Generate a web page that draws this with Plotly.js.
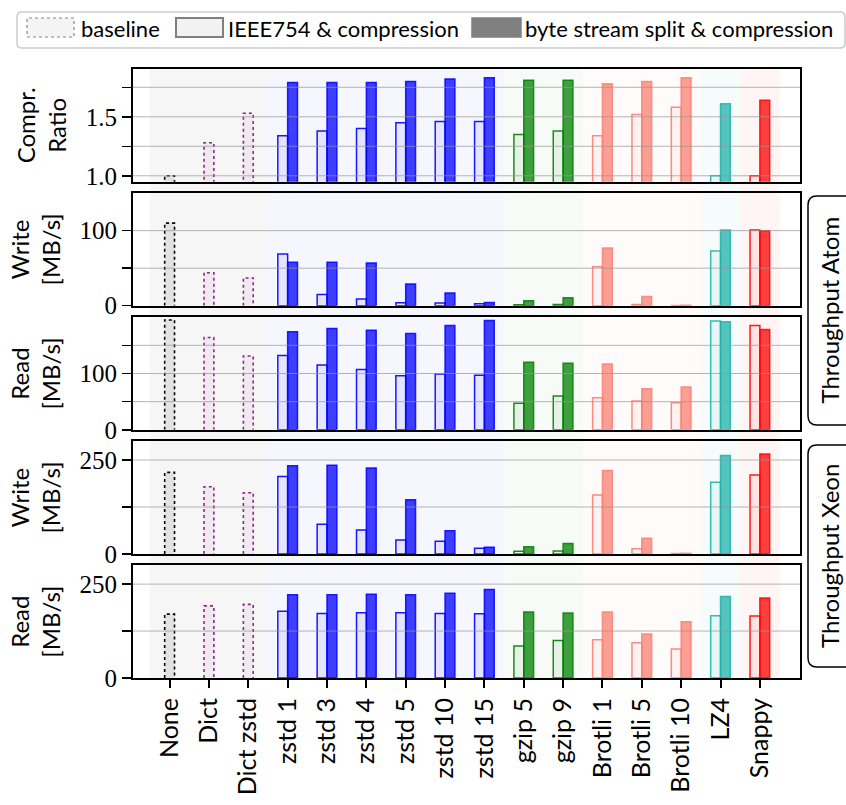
<!DOCTYPE html>
<html><head><meta charset="utf-8">
<script src="https://cdn.plot.ly/plotly-3.0.1.min.js"></script>
<style>html,body{margin:0;padding:0;background:#fff}</style>
</head><body><div id="chart" style="width:846px;height:805px"></div>
<script>
// ---------------- data ----------------
const categories = ['None','Dict','Dict zstd','zstd 1','zstd 3','zstd 4','zstd 5','zstd 10','zstd 15','gzip 5','gzip 9','Brotli 1','Brotli 5','Brotli 10','LZ4','Snappy'];
const baselineCats = ['None','Dict','Dict zstd'];
const codecCats = ['zstd 1','zstd 3','zstd 4','zstd 5','zstd 10','zstd 15','gzip 5','gzip 9','Brotli 1','Brotli 5','Brotli 10','LZ4','Snappy'];

const ratioBaseline = [1.00, 1.28, 1.53];
const ratioIEEE     = [1.34, 1.38, 1.40, 1.45, 1.46, 1.46, 1.35, 1.38, 1.34, 1.52, 1.58, 1.00, 1.00];
const ratioBSS      = [1.79, 1.79, 1.79, 1.80, 1.82, 1.83, 1.81, 1.81, 1.78, 1.80, 1.83, 1.61, 1.64];

const writeAtomBaseline = [110, 44, 37];
const writeAtomIEEE     = [69, 15, 9, 4, 3.5, 2.6, 1.3, 1.7, 52, 1.7, 0.3, 73, 101];
const writeAtomBSS      = [58, 58, 57, 29, 17, 4.4, 6.6, 10.6, 77, 12.4, 0.5, 101, 100];

const readAtomBaseline = [195, 164, 131];
const readAtomIEEE     = [132, 115, 107, 96, 99, 97, 47, 60, 57, 51, 48, 193, 185];
const readAtomBSS      = [174, 180, 177, 171, 185, 194, 120, 118, 117, 73, 76, 192, 178];

const writeXeonBaseline = [217, 179, 163];
const writeXeonIEEE     = [206, 79, 64, 37, 34, 15, 7, 8, 157, 14, 1, 191, 210];
const writeXeonBSS      = [235, 236, 229, 144, 62, 18, 19, 28, 222, 42, 1.5, 262, 266];

const readXeonBaseline = [170, 192, 196];
const readXeonIEEE     = [178, 172, 174, 174, 172, 171, 85, 100, 102, 94, 77, 166, 165];
const readXeonBSS      = [222, 222, 223, 222, 226, 236, 176, 173, 176, 117, 150, 217, 213];

const panelTitles = ['Compr.<br>Ratio', 'Write<br>[MB/s]', 'Read<br>[MB/s]', 'Write<br>[MB/s]', 'Read<br>[MB/s]'];
const yTickVals = [[1, 1.25, 1.5, 1.75], [0, 50, 100], [0, 50, 100, 150], [0, 125, 250], [0, 125, 250]];
const yTickText = [['1.0', '', '1.5', ''], ['0', '', '100'], ['0', '', '100', ''], ['0', '', '250'], ['0', '', '250']];
const yRanges = [[0.95, 1.905], [0, 150], [0, 200], [0, 300], [0, 300]];
const legendLabels = ['baseline', 'IEEE754 & compression', 'byte stream split & compression'];
const machineLabels = ['Throughput Atom', 'Throughput Xeon'];

// ---------------- styling helpers ----------------
const panels = [
  [ratioBaseline, ratioIEEE, ratioBSS],
  [writeAtomBaseline, writeAtomIEEE, writeAtomBSS],
  [readAtomBaseline, readAtomIEEE, readAtomBSS],
  [writeXeonBaseline, writeXeonIEEE, writeXeonBSS],
  [readXeonBaseline, readXeonIEEE, readXeonBSS]
];
function family(cat) {
  if (cat === 'None') return 'none';
  if (cat.startsWith('Dict')) return 'dict';
  return cat.split(' ')[0];
}
const famRGB = {none: [0,0,0], dict: [128,0,128], zstd: [0,0,255], gzip: [0,128,0], Brotli: [250,128,114], LZ4: [32,178,170], Snappy: [255,0,0]};
const rgba = (c, a) => `rgba(${c[0]},${c[1]},${c[2]},${a})`;
const idx = c => categories.indexOf(c);

const BW = 0.25;
const FONT = 'Lato, "Noto Sans", sans-serif';
const NUMFONT = '"Liberation Serif", "DejaVu Serif", serif';

const L = 133, T = 69, W = 667, H = 609;
const pxX = v => (v - L) / W;
const pxY = v => (T + H - v) / H;
function roundRect(x0, y0, x1, y1, r) {
  const X = pxX, Y = pxY;
  return `M ${X(x0+r)} ${Y(y0)} L ${X(x1-r)} ${Y(y0)} Q ${X(x1)} ${Y(y0)} ${X(x1)} ${Y(y0+r)} ` +
         `L ${X(x1)} ${Y(y1-r)} Q ${X(x1)} ${Y(y1)} ${X(x1-r)} ${Y(y1)} ` +
         `L ${X(x0+r)} ${Y(y1)} Q ${X(x0)} ${Y(y1)} ${X(x0)} ${Y(y1-r)} ` +
         `L ${X(x0)} ${Y(y0+r)} Q ${X(x0)} ${Y(y0)} ${X(x0+r)} ${Y(y0)} Z`;
}

const nP = 5, ph = 0.185, gap = (1 - nP * ph) / (nP - 1);
const traces = [];
const shapes = [];
const annotations = [];
const layout = {
  width: 846, height: 805,
  margin: {l: L, r: 846 - L - W, t: T, b: 805 - T - H},
  paper_bgcolor: '#ffffff', plot_bgcolor: 'rgba(0,0,0,0)',
  barmode: 'overlay', showlegend: false,
  font: {family: FONT, size: 22, color: '#000'}
};

for (let k = 0; k < nP; k++) {
  const s = k === 0 ? '' : String(k + 1);
  const xa = 'x' + s, ya = 'y' + s;
  const [bv, iv, sv] = panels[k];
  // baseline fill
  traces.push({
    type: 'bar', xaxis: xa, yaxis: ya,
    x: baselineCats.map(idx), y: bv, width: BW, offset: -BW / 2,
    marker: {color: baselineCats.map(c => family(c) === 'none' ? 'rgba(0,0,0,0.08)' : 'rgba(128,0,128,0.05)'), line: {width: 0}},
    hoverinfo: 'x+y'
  });
  // baseline dotted outlines
  baselineCats.forEach((c, j) => {
    const i = idx(c);
    traces.push({
      type: 'scatter', mode: 'lines', xaxis: xa, yaxis: ya,
      x: [i - BW / 2, i - BW / 2, i + BW / 2, i + BW / 2],
      y: [0, bv[j], bv[j], 0],
      line: {color: family(c) === 'none' ? '#000' : 'rgba(128,0,128,0.85)', width: 1.6, dash: 'dot'},
      hoverinfo: 'skip'
    });
  });
  // IEEE754 & compression
  traces.push({
    type: 'bar', xaxis: xa, yaxis: ya,
    x: codecCats.map(idx), y: iv, width: BW, offset: -BW,
    marker: {color: codecCats.map(c => rgba(famRGB[family(c)], 0.07)),
             line: {color: codecCats.map(c => rgba(famRGB[family(c)], 0.9)), width: 1.5}}
  });
  // byte stream split & compression
  traces.push({
    type: 'bar', xaxis: xa, yaxis: ya,
    x: codecCats.map(idx), y: sv, width: BW, offset: 0,
    marker: {color: codecCats.map(c => rgba(famRGB[family(c)], 0.75)),
             line: {color: codecCats.map(c => rgba(famRGB[family(c)], 0.85)), width: 1.5}}
  });

  const top = 1 - k * (ph + gap);
  layout['xaxis' + s] = {
    domain: [0, 1], anchor: ya, range: [-0.93, 16.02],
    matches: k === 0 ? undefined : 'x',
    tickmode: 'array', tickvals: categories.map((c, i) => i), ticktext: categories,
    showticklabels: k === nP - 1, ticks: k === nP - 1 ? 'outside' : '',
    ticklen: 8, tickwidth: 2, tickcolor: '#000', tickangle: -90,
    tickfont: {family: FONT, size: 25, color: '#000'},
    showline: true, mirror: true, linecolor: '#000', linewidth: 2,
    showgrid: false, zeroline: false
  };
  layout['yaxis' + s] = {
    domain: [top - ph, top], anchor: xa, range: yRanges[k],
    tickmode: 'array', tickvals: yTickVals[k], ticktext: yTickText[k],
    ticks: 'outside', ticklen: 9, tickwidth: 1.5, tickcolor: '#000',
    tickfont: {family: NUMFONT, size: 25, color: '#000'},
    showline: true, mirror: true, linecolor: '#000', linewidth: 2,
    showgrid: false, zeroline: false,
    title: {text: panelTitles[k], font: {family: FONT, size: 24, color: '#000'}, standoff: 12}
  };
  // gridlines above bars
  yTickVals[k].forEach(v => {
    if (v <= yRanges[k][0]) return;
    shapes.push({type: 'line', xref: 'paper', yref: ya, x0: 0, x1: 1, y0: v, y1: v,
                 line: {color: 'rgba(150,150,150,0.7)', width: 1}, layer: 'above'});
  });
}

// background bands per codec family
const bandColor = {base: 'rgba(128,128,128,0.07)', zstd: 'rgba(0,0,255,0.035)', gzip: 'rgba(0,128,0,0.03)',
                   Brotli: 'rgba(250,128,114,0.035)', LZ4: 'rgba(32,178,170,0.04)', Snappy: 'rgba(255,0,0,0.04)'};
const bandKey = c => (family(c) === 'none' || family(c) === 'dict') ? 'base' : family(c);
let start = 0;
for (let i = 1; i <= categories.length; i++) {
  if (i === categories.length || bandKey(categories[i]) !== bandKey(categories[start])) {
    shapes.push({type: 'rect', xref: 'x', yref: 'paper', x0: start - 0.5, x1: i - 0.5, y0: 0, y1: 1,
                 fillcolor: bandColor[bandKey(categories[start])], line: {width: 0}, layer: 'below'});
    start = i;
  }
}

// machine group boxes on the right
const machineBoxes = [[196, 425], [445, 667]];
machineLabels.forEach((lab, m) => {
  const [y0, y1] = machineBoxes[m];
  shapes.push({type: 'path', xref: 'paper', yref: 'paper', path: roundRect(808, y0, 856, y1, 9),
               line: {color: '#000', width: 1.5}, fillcolor: 'rgba(255,255,255,1)'});
  annotations.push({xref: 'paper', yref: 'paper', x: pxX(829), y: pxY((y0 + y1) / 2), text: lab,
                    textangle: -90, showarrow: false, xanchor: 'center', yanchor: 'middle',
                    font: {family: FONT, size: 24, color: '#000'}});
});

// custom legend
shapes.push({type: 'path', xref: 'paper', yref: 'paper', path: roundRect(17, 12, 845, 48, 5),
             line: {color: '#cccccc', width: 1.5}, fillcolor: 'rgba(255,255,255,0.9)'});
const swatches = [
  {x0: 27, x1: 74, fill: '#f4f4f4', line: {color: '#888', width: 1.2, dash: 'dot'}},
  {x0: 176, x1: 223, fill: '#f2f2f2', line: {color: '#808080', width: 2}},
  {x0: 472, x1: 521, fill: '#808080', line: {color: '#808080', width: 1.5}}
];
const textX = [79, 226, 523];
legendLabels.forEach((lab, j) => {
  const sw = swatches[j];
  shapes.push({type: 'rect', xref: 'paper', yref: 'paper', x0: pxX(sw.x0), x1: pxX(sw.x1), y0: pxY(37), y1: pxY(18),
               fillcolor: sw.fill, line: sw.line});
  annotations.push({xref: 'paper', yref: 'paper', x: pxX(textX[j]), y: pxY(28.5), text: lab, showarrow: false,
                    xanchor: 'left', yanchor: 'middle', font: {family: FONT, size: 22, color: '#000'}});
});

layout.shapes = shapes;
layout.annotations = annotations;
Plotly.newPlot('chart', traces, layout, {staticPlot: true, displayModeBar: false});
</script>
</body></html>
